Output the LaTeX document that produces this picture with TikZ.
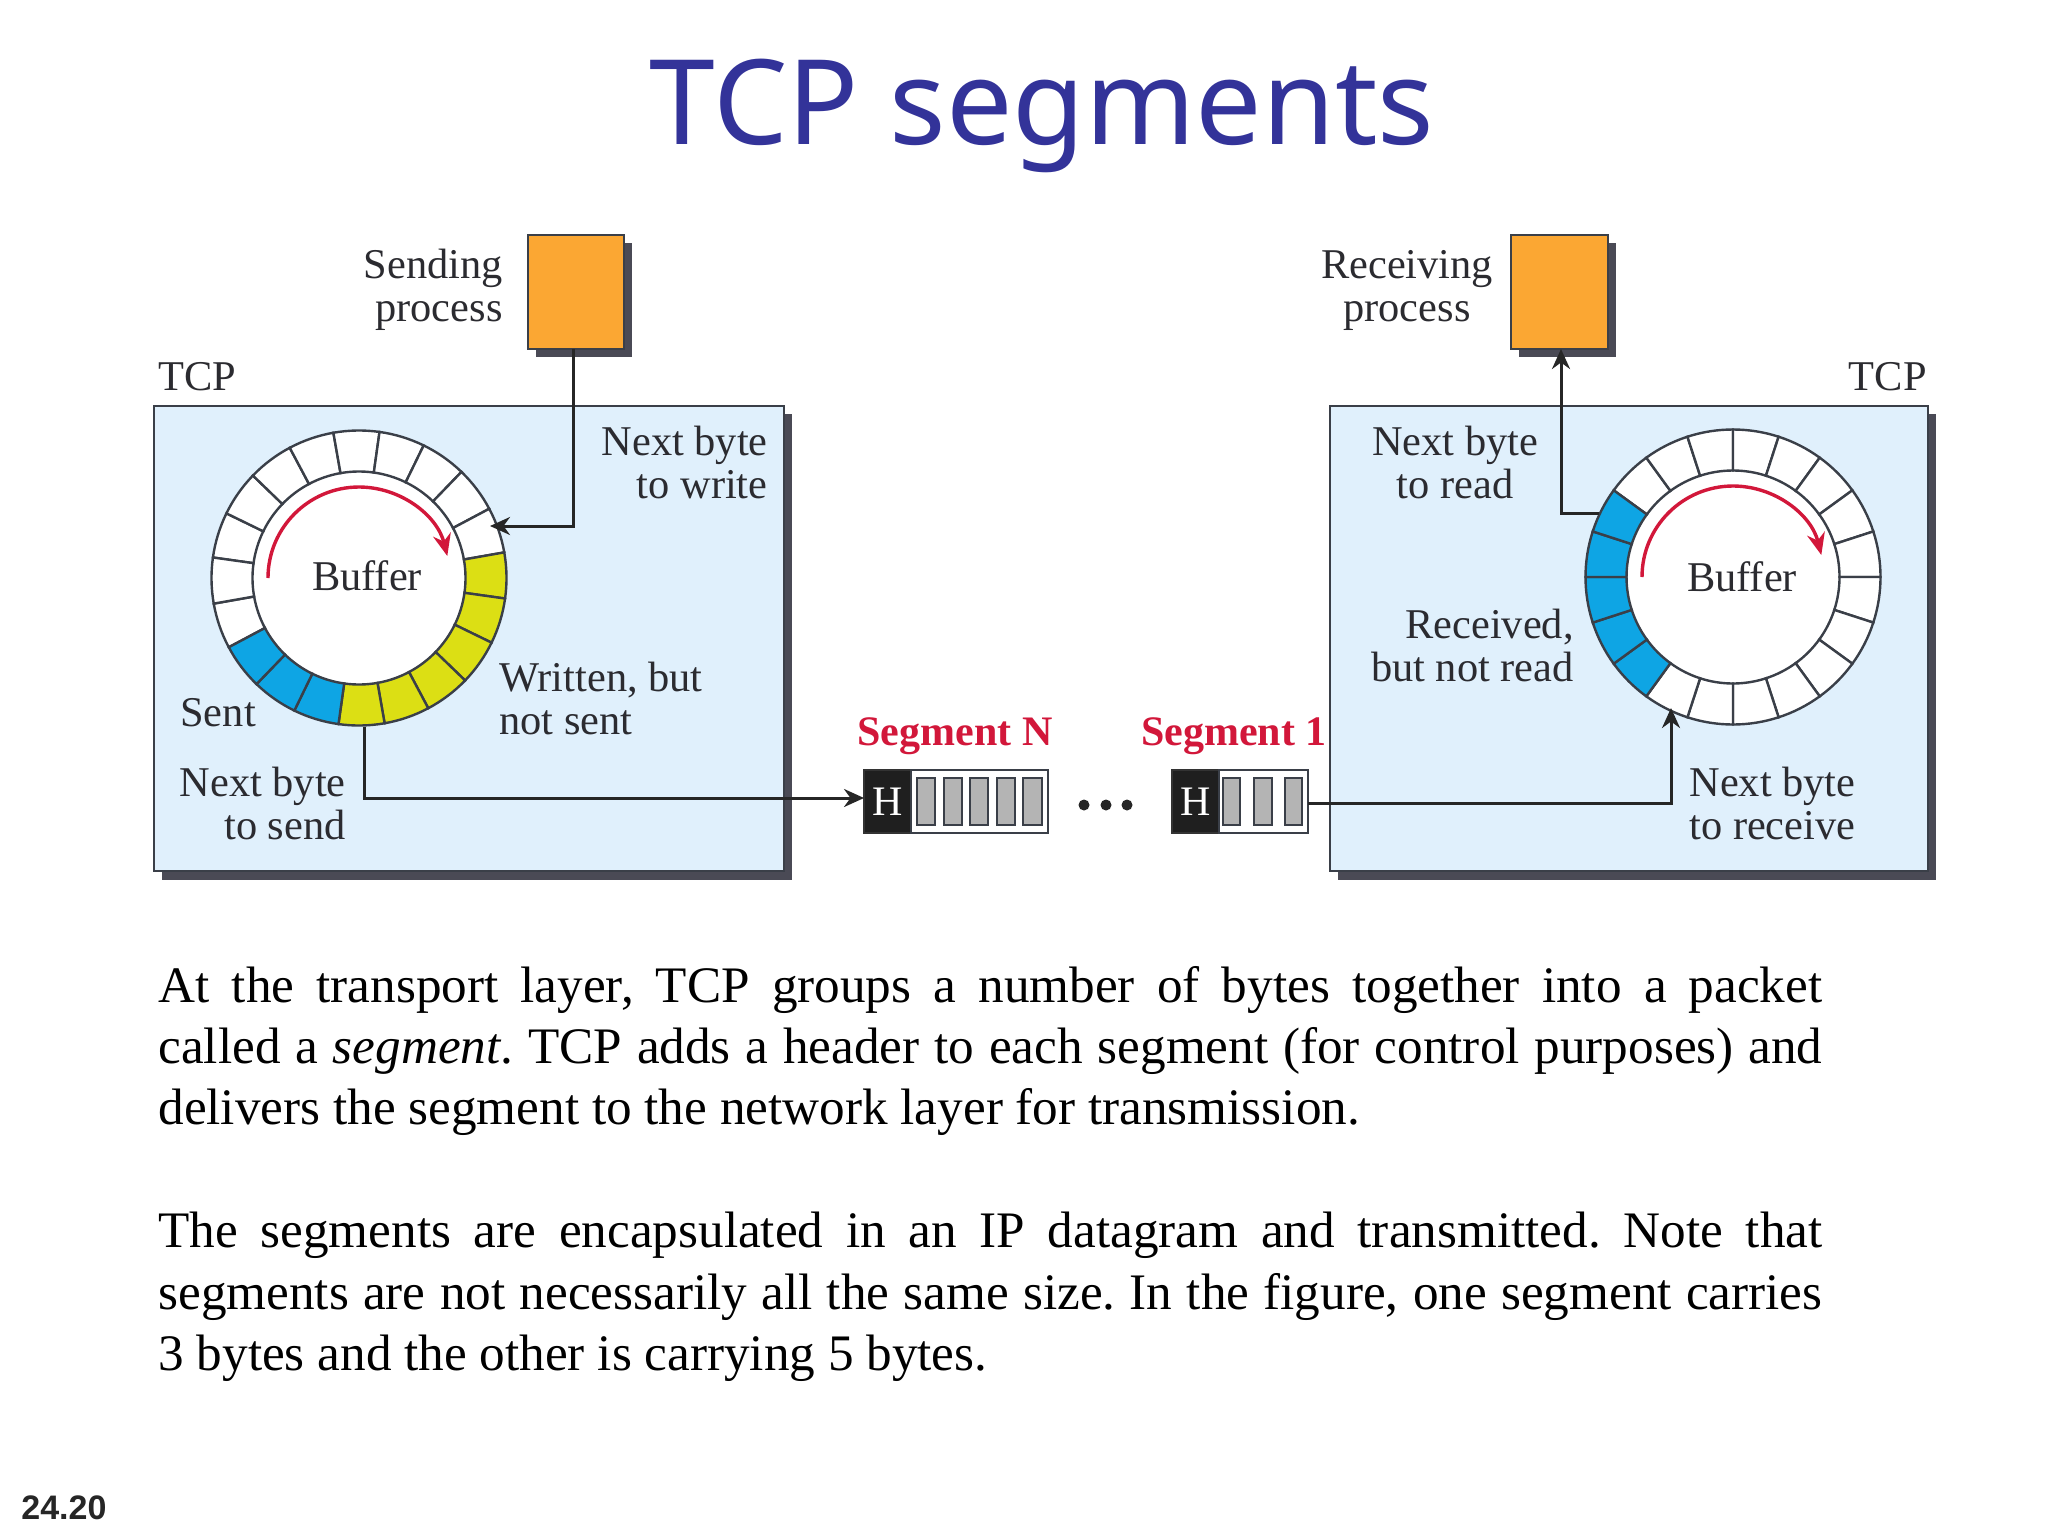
\documentclass[tikz,border=0pt]{standalone}
\usepackage{fontspec}
\setmainfont{Liberation Serif}
\newfontfamily\titlefont{Noto Sans}
\newfontfamily\numfont{Liberation Sans}
\usetikzlibrary{arrows.meta}
\definecolor{titleblue}{HTML}{333399}
\definecolor{boxfill}{HTML}{E0F0FC}
\definecolor{shadowc}{HTML}{4A4A55}
\definecolor{edgec}{HTML}{3A3F48}
\definecolor{orangec}{HTML}{FBA733}
\definecolor{bluec}{HTML}{0EA5E4}
\definecolor{yellowc}{HTML}{DCDF14}
\definecolor{redc}{HTML}{D2173A}
\definecolor{txt}{HTML}{2B2B30}
\definecolor{cellc}{HTML}{B4B4B4}
\tikzset{
  rectnode/.style={rectangle,inner sep=0pt,outer sep=0pt,draw=edgec,line width=1.2pt},
  shadownode/.style={rectangle,inner sep=0pt,outer sep=0pt,fill=shadowc},
  tcpbox/.style={rectnode,fill=boxfill},
  procbox/.style={rectnode,fill=orangec},
  hbox/.style={rectnode,fill=black!88,draw=black!80},
  paybox/.style={rectnode,fill=white,line width=1pt},
  cellbox/.style={rectnode,fill=cellc,line width=1.1pt},
  lab/.style={inner sep=0pt,text=txt,font=\fontsize{21.2}{21.5}\selectfont},
  seglab/.style={inner sep=0pt,text=redc,font=\fontsize{21}{21.5}\selectfont\bfseries},
  body/.style={inner sep=0pt,text=black,anchor=west,text width=832pt,align=justify,font=\fontsize{25.6}{30.7}\selectfont},
  conn/.style={draw=black!85,line width=1.5pt},
  arr/.style={conn,-{Stealth[length=10pt,width=9pt]}},
  redarr/.style={draw=redc,line width=1.7pt,-{Stealth[length=11pt,width=9pt]}},
  dotnode/.style={circle,fill=black!85,inner sep=0pt,minimum size=5.5pt}
}
% name, x1, y1, x2, y2, style (all in reference pixels)
\newcommand\bx[6]{%
  \pgfmathsetmacro\bxcx{(#2+#4)/2}\pgfmathsetmacro\bxcy{(#3+#5)/2}%
  \pgfmathsetmacro\bxw{(#4-#2)/2}\pgfmathsetmacro\bxh{(#5-#3)/2}%
  \node[#6,minimum width=\bxw pt,minimum height=\bxh pt] (#1) at (\bxcx,\bxcy) {};}
% first boundary angle, count, colour: a run of ring cells going clockwise
\newcommand\sectors[3]{%
  \foreach \k in {1,...,#2}{%
    \pgfmathsetmacro\aa{#1-(\k-1)*18}\pgfmathsetmacro\ab{#1-\k*18}%
    \filldraw[fill=#3,draw=edgec,line width=1.2pt]
      (\aa:73.75pt) arc[start angle=\aa,end angle=\ab,radius=73.75pt]
      -- (\ab:53.25pt) arc[start angle=\ab,end angle=\aa,radius=53.25pt] -- cycle;
  }}
\begin{document}
\begin{tikzpicture}[x=.5pt,y=-.5pt]
\useasboundingbox[fill=white] (0,0) rectangle (2048,1536);
\node[inner sep=0pt,anchor=base,text=titleblue,font=\titlefont\fontsize{59}{70}\selectfont] (title) at (1042,144) {TCP segments};

% TCP boxes
\bx{shL}{162}{414}{792}{880}{shadownode}
\bx{tcpL}{154}{406}{784}{871}{tcpbox}
\bx{shR}{1338}{414}{1936}{880}{shadownode}
\bx{tcpR}{1330}{406}{1928}{871}{tcpbox}
% processes
\bx{shS}{536}{243}{632}{357}{shadownode}
\bx{sendp}{528}{235}{624}{349}{procbox}
\bx{shT}{1519}{243}{1616}{357}{shadownode}
\bx{recvp}{1511}{235}{1608}{349}{procbox}

% left ring
\begin{scope}[shift={(359,578)}]
  \fill[white] (0,0) circle[radius=53.25pt];
  \sectors{172}{9}{white}
  \sectors{-152}{2}{white}
  \sectors{10}{6}{yellowc}
  \sectors{-98}{3}{bluec}
  \draw[redarr] (180:45.5pt) arc[start angle=180,end angle=14,radius=45.5pt];
\end{scope}
% right ring
\begin{scope}[shift={(1733,577)}]
  \fill[white] (0,0) circle[radius=53.25pt];
  \sectors{144}{15}{white}
  \sectors{234}{5}{bluec}
  \draw[redarr] (180:45.5pt) arc[start angle=180,end angle=14,radius=45.5pt];
\end{scope}

\coordinate (nextwrite) at (490,526);
\coordinate (nextsend) at (364,727);
\coordinate (nextread) at (1599,513);
\coordinate (nextrecv) at (1671,708);

% segments
\bx{hN}{864}{770}{911}{833}{hbox}
\bx{payN}{911}{770}{1048}{833}{paybox}
\foreach \n/\a/\b in {1/917/935,2/944/962,3/970/988,4/997/1015,5/1023/1042}{\bx{cN\n}{\a}{778}{\b}{825}{cellbox}}
\bx{h1}{1172}{770}{1219}{833}{hbox}
\bx{pay1}{1219}{770}{1308}{833}{paybox}
\foreach \n/\a/\b in {1/1223/1240,2/1254/1272,3/1285/1302}{\bx{c1\n}{\a}{778}{\b}{825}{cellbox}}
\node[inner sep=0pt,text=white,font=\fontsize{21}{21}\selectfont] (hNt) at (hN) {H};
\node[inner sep=0pt,text=white,font=\fontsize{21}{21}\selectfont] (h1t) at (h1) {H};
\node[dotnode] (d1) at (1084,805) {};
\node[dotnode] (d2) at (1106,805) {};
\node[dotnode] (d3) at (1127,805) {};

% connectors
\draw[arr] ([xshift=-1.5pt]sendp.south) |- (nextwrite);
\draw[arr] (nextread) -| ([xshift=.75pt]recvp.south);
\draw[arr] (nextsend) |- ([yshift=1.75pt]hN.west);
\draw[arr] ([yshift=-.75pt]pay1.east) -| (nextrecv);

% labels
\node[lab,anchor=east,align=right] (l1) at (503,290) {Sending\\process};
\node[lab,align=center] (l2) at (1407,290) {Receiving\\process};
\node[lab,anchor=west] (l3) at (158,377) {TCP};
\node[lab,anchor=east] (l4) at (1927,377) {TCP};
\node[lab,anchor=east,align=right] (l5) at (768,462) {Next byte\\to write};
\node[lab] (l6) at (367,576) {Buffer};
\node[lab,anchor=west,align=left] (l7) at (499,698) {Written, but\\not sent};
\node[lab,anchor=west] (l8) at (180,713) {Sent};
\node[lab,anchor=east,align=right] (l9) at (346,803) {Next byte\\to send};
\node[lab,align=center] (l10) at (1455,462) {Next byte\\to read};
\node[lab,anchor=east,align=right] (l11) at (1574,645) {Received,\\but not read};
\node[lab] (l12) at (1742,577) {Buffer};
\node[lab,anchor=west,align=left] (l13) at (1689,803) {Next byte\\to receive};
\node[seglab] (s1) at (955,736) {Segment N};
\node[seglab] (s2) at (1234,736) {Segment 1};

% body text
\node[body] (p1) at (158,1051) {\frenchspacing At the transport layer, TCP groups a number of bytes together into a packet\linebreak called a \textit{segment}. TCP adds a header to each segment (for control purposes) and\linebreak delivers the segment to the network layer for transmission.};
\node[body] (p2) at (158,1297) {\frenchspacing The segments are encapsulated in an IP datagram and transmitted. Note that\linebreak segments are not necessarily all the same size. In the figure, one segment carries\linebreak 3 bytes and the other is carrying 5 bytes.};
\node[inner sep=0pt,anchor=west,font=\numfont\bfseries\fontsize{17}{18}\selectfont,text=black!85] (pg) at (21,1508) {24.20};
\end{tikzpicture}
\end{document}
